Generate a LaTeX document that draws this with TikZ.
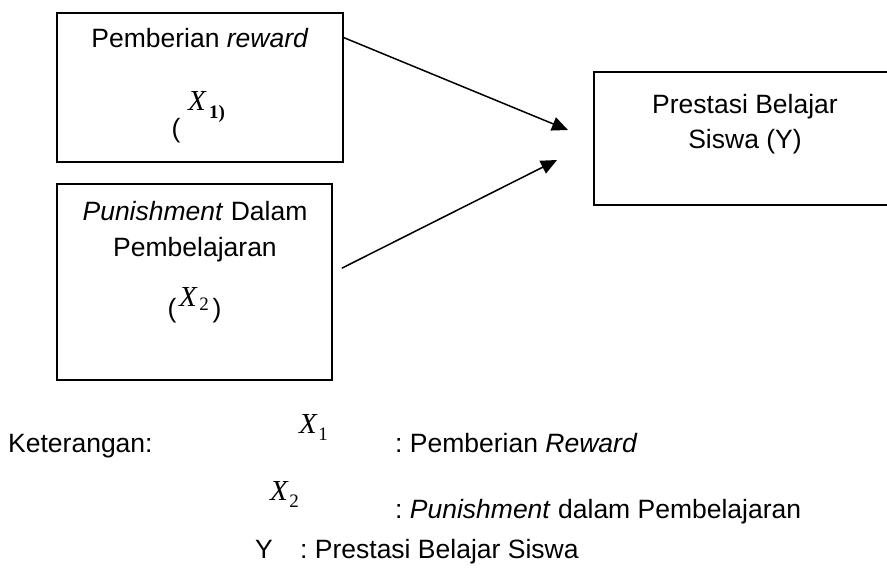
\documentclass[tikz,border=0pt]{standalone}
\usepackage{fontspec}
\setmainfont{Liberation Sans}
\newfontfamily\mathlike{Liberation Serif}
\usetikzlibrary{arrows.meta,calc}
\tikzset{
  box/.style={draw=black, line width=1.6pt, minimum width=#1, inner sep=0pt},
  txt/.style={inner sep=0pt, anchor=base, font=\fontsize{26.5}{32}\selectfont},
  txtw/.style={inner sep=0pt, anchor=base west, font=\fontsize{26.5}{32}\selectfont},
  par/.style={inner sep=0pt, font=\fontsize{26.5}{32}\selectfont},
  mth/.style={inner sep=0pt, font=\mathlike\itshape\fontsize{29}{32}\selectfont},
  sub/.style={inner sep=0pt, font=\mathlike\fontsize{19}{22}\selectfont},
  conn/.style={line width=1.5pt, -{Triangle[length=16pt,width=14pt]}}
}
\begin{document}
\frenchspacing
\begin{tikzpicture}[x=1pt,y=-1pt]
\useasboundingbox (0,0) rectangle (887,568);
% boxes
\node[box=286pt, minimum height=149pt] (b1) at (200,87.5) {};
\node[box=275pt, minimum height=196pt] (b2) at (194.5,282) {};
\node[box=302pt, minimum height=133pt] (b3) at (745,138.5) {};
% box 1 text
\node[txt] (b1t) at (200,47) {Pemberian \textit{reward}};
\node[par] (b1p) at (176,131) {(};
\node[mth] (b1x) at (197,101) {X};
\node[sub] (b1s) at (217,114) {\bfseries 1)};
% box 2 text
\node[txt] (b2t1) at (195,220) {\textit{Punishment} Dalam};
\node[txt] (b2t2) at (195,256) {Pembelajaran};
\node[par] (b2p) at (172,311) {(};
\node[mth] (b2x) at (188,297) {X};
\node[sub] (b2s) at (204,304) {2};
\node[par] (b2q) at (217,311) {)};
% box 3 text
\node[txt] (b3t1) at (745,113) {Prestasi Belajar};
\node[txt] (b3t2) at (745,148) {Siswa (Y)};
% arrows
\coordinate (t1) at (568,130);
\coordinate (t2) at (557,160);
\draw[conn] ($(b1.north east)+(-1,25)$) -- (t1);
\draw[conn] ($(b2.north east)+(9,85)$) -- (t2);
% legend
\node[txtw] (k) at (8,452) {Keterangan:};
\node[mth] (lx1) at (308,424) {X};
\node[sub] (lx1s) at (323,434) {1};
\node[txtw] (l1) at (395,452) {: Pemberian \textit{Reward}};
\node[mth] (lx2) at (279,491) {X};
\node[sub] (lx2s) at (294,501) {2};
\node[txtw] (l2) at (395,518) {: \textit{Punishment} dalam Pembelajaran};
\node[txtw] (ly) at (255,558) {Y};
\node[txtw] (l3) at (300,558) {: Prestasi Belajar Siswa};
\end{tikzpicture}
\end{document}
